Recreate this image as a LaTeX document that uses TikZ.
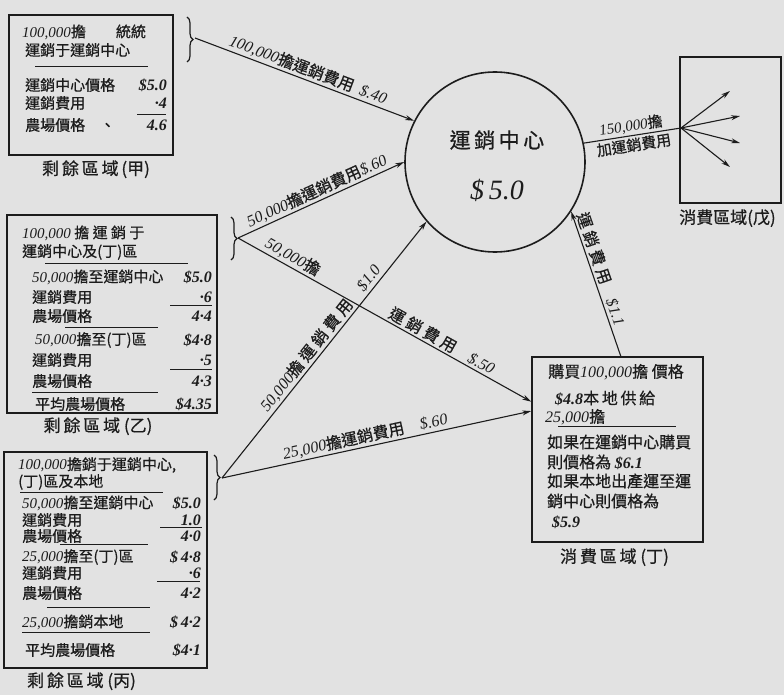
\documentclass[tikz,border=0pt]{standalone}
\usepackage{fontspec}
\newfontfamily\cjk[FakeBold=0.6]{Noto Sans CJK TC}
\newfontfamily\numf{Liberation Serif}
\usepackage{tikz}
\usetikzlibrary{arrows.meta,positioning,decorations.pathreplacing}
\definecolor{paper}{RGB}{226,226,226}
\definecolor{ink}{RGB}{28,28,28}
\newcommand{\nb}[1]{{\numf\itshape #1}}
\newcommand{\pr}[1]{{\numf\bfseries\itshape #1}}
\tikzstyle{arrow} = [line width=1.1pt,-{Stealth[length=9pt,width=5pt]},color=ink]
\tikzstyle{regionbox} = [rectangle, draw=ink, line width=1.6pt]
\tikzstyle{hubcircle} = [circle, draw=ink, line width=1.6pt, minimum size=180pt, inner sep=0pt]
\tikzstyle{boxline} = [anchor=west, inner sep=0pt, text=ink, font=\cjk\fontsize{15}{17}\selectfont]
\tikzstyle{dline} = [boxline, font=\cjk\fontsize{16}{18}\selectfont]
\tikzstyle{boxval} = [anchor=east, inner sep=0pt, text=ink, font=\numf\bfseries\itshape\fontsize{16}{17}\selectfont]
\tikzstyle{sumrule} = [line width=1pt, color=ink]
\tikzstyle{regionlabel} = [text=ink, font=\cjk\fontsize{17}{19}\selectfont]
\tikzstyle{flowlabel} = [sloped, inner sep=2pt, text=ink, font=\cjk\fontsize{16}{18}\selectfont]
\tikzstyle{bracket} = [decorate, decoration={brace, amplitude=6pt}, line width=1.2pt, color=ink]

\begin{document}
\begin{tikzpicture}[x=1pt,y=-1pt]
\useasboundingbox (0,0) rectangle (784,695);
\fill[paper] (0,0) rectangle (784,695);

% regions and the centre
\node[regionbox, minimum width=164pt, minimum height=140pt] (boxA) at (91,85) {};
\node[regionbox, minimum width=210pt, minimum height=198pt] (boxB) at (112,314) {};
\node[regionbox, minimum width=203pt, minimum height=216pt] (boxC) at (105.5,560) {};
\node[regionbox, minimum width=171pt, minimum height=185pt] (boxD) at (617.5,449.5) {};
\node[regionbox, minimum width=101pt, minimum height=146pt] (boxE) at (730.5,130) {};
\node[hubcircle] (hub) at (495,162) {};
\node[text=ink, font=\cjk\fontsize{21}{23}\selectfont] (hubname) at (497,140) {運\,銷\,中\,心};
\node[text=ink, font=\numf\itshape\fontsize{28}{30}\selectfont] (hubprice) at (497,190) {\$\,5.0};

% region names
\node[regionlabel, below=1pt of boxA, xshift=5pt] (labA) {剩\,餘\,區\,域\,(甲)};
\node[regionlabel, below=0pt of boxB, xshift=-14pt] (labB) {剩\,餘\,區\,域\ (乙)};
\node[regionlabel, below=0pt of boxC, xshift=-24pt] (labC) {剩\,餘\,區\,域\ (丙)};
\node[regionlabel, below=2pt of boxD, xshift=-3pt] (labD) {消\,費\,區\,域\ (丁)};
\node[regionlabel, below=2pt of boxE, xshift=-3pt] (labE) {消費區域(戊)};

% region (A)
\foreach \x/\y/\t [count=\i] in {22/32/{\nb{100,000}擔\qquad 統統}, 25/50/運銷于運銷中心,
  25/85/運銷中心價格, 25/103/運銷費用, 25/125/農場價格\quad 、}
  \node[boxline] (a\i) at (\x,\y) {\t};
\foreach \y/\v [count=\i] in {85/\$5.0, 103/·4, 125/4.6}
  \node[boxval] (av\i) at (167,\y) {\v};
\foreach \xa/\xb/\y in {35/148/67, 137/166/115}
  \draw[sumrule] (\xa,\y) -- (\xb,\y);

% region (B)
\foreach \x/\y/\t [count=\i] in {22/233/{\nb{100,000}\ 擔\ 運\ 銷\ 于}, 22/252/運銷中心及(丁)區,
  32/277/{\nb{50,000}擔至運銷中心}, 32/297/運銷費用, 32/316/農場價格,
  35/340/{\nb{50,000}擔至(丁)區}, 32/360/運銷費用, 32/381/農場價格, 35/404/平均農場價格}
  \node[boxline] (b\i) at (\x,\y) {\t};
\foreach \y/\v [count=\i] in {277/\$5.0, 297/·6, 316/4·4, 340/\$4·8, 360/·5, 381/4·3, 404/\$4.35}
  \node[boxval] (bv\i) at (212,\y) {\v};
\foreach \xa/\xb/\y in {45/188/263, 170/212/305, 65/158/327, 170/212/369, 32/158/392}
  \draw[sumrule] (\xa,\y) -- (\xb,\y);

% region (C)
\foreach \x/\y/\t [count=\i] in {18/465/{\nb{100,000}擔銷于運銷中心,}, 18/482/(丁)區及本地,
  22/503/{\nb{50,000}擔至運銷中心}, 22/520/運銷費用, 22/536/農場價格,
  22/557/{\nb{25,000}擔至(丁)區}, 22/573/運銷費用, 22/593/農場價格,
  22/622/{\nb{25,000}擔銷本地}, 25/650/平均農場價格}
  \node[boxline] (c\i) at (\x,\y) {\t};
\foreach \y/\v [count=\i] in {503/\$5.0, 520/1.0, 536/4·0, 557/\$\,4·8, 573/·6, 593/4·2, 622/\$\,4·2, 650/\$4·1}
  \node[boxval] (cv\i) at (201,\y) {\v};
\foreach \xa/\xb/\y in {20/163/492, 160/202/527, 60/148/544, 157/200/581, 47/150/607, 22/150/632}
  \draw[sumrule] (\xa,\y) -- (\xb,\y);

% region (D)
\foreach \x/\y/\t [count=\i] in {548/372/{購買\nb{100,000}擔\ 價格}, 555/398/{\pr{\$4.8}本\,地\,供\,給},
  545/417/{\nb{25,000}擔}, 547/442/如果在運銷中心購買, 547/462/{則價格為\ \pr{\$6.1}},
  547/481/如果本地出產運至運, 547/501/銷中心則價格為, 552/522/{\pr{\$5.9}}}
  \node[dline] (d\i) at (\x,\y) {\t};
\draw[sumrule] (558,426) -- (676,426);

% braces
\draw[bracket] (187,17) -- (187,62);
\draw[bracket] (231,217) -- (231,260);
\draw[bracket] (214,455) -- (214,500);
\coordinate (braceA) at (195,38);
\coordinate (braceB) at (238,238);
\coordinate (braceC) at (222,478);

% shipments
\draw[arrow] (braceA) -- node[flowlabel, above] {\nb{100,000}擔運銷費用\ \ \nb{\$.40}} (hub.153);
\draw[arrow] (braceB) -- node[flowlabel, above] {\nb{50,000}擔運銷費用\nb{\$.60}} (hub.180);
\draw[arrow] (braceB) -- node[flowlabel, above, pos=0.17] {\nb{50,000}擔}
  node[flowlabel, above, pos=0.68] {運\ 銷\ 費\ 用\quad\nb{\$.50}} (boxD.151);
\draw[arrow] (braceC) -- node[flowlabel, above, pos=0.52] {\nb{50,000}擔\ 運\ 銷\ 費\ 用\quad\nb{\$1.0}} (hub.221);
\draw[arrow] (braceC) -- node[flowlabel, above, pos=0.47] {\nb{25,000}擔運銷費用\quad\nb{\$.60}} (boxD.156);
\draw[arrow] (boxD.88) -- node[flowlabel, above, pos=0.58] {運\ 銷\ 費\ 用\quad\nb{\$1.1}} (hub.-33);

% onward to (E)
\coordinate (fan) at (681,128);
\draw[line width=1.1pt, color=ink] (hub.12) -- node[flowlabel, above, font=\cjk\fontsize{15}{17}\selectfont] {\nb{150,000}擔}
  node[flowlabel, below, font=\cjk\fontsize{15}{17}\selectfont] {加運銷費用} (fan);
\foreach \ex/\ey [count=\i] in {730/91, 740/116, 740/143, 730/167} {
  \coordinate (e\i) at (\ex,\ey);
  \draw[arrow] (fan) -- (e\i);
}
\end{tikzpicture}
\end{document}
